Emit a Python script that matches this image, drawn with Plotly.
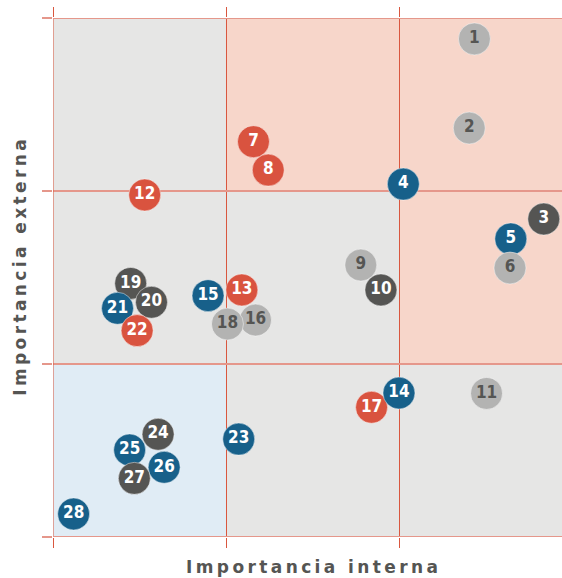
import plotly.graph_objects as go

# positions in grid units (each quadrant cell = 1 unit)
ids = ["1", "2", "3", "4", "5", "6", "7", "8", "9", "10", "11", "12", "13", "15",
       "16", "17", "14", "18", "19", "20", "21", "22", "23", "24", "25", "26", "27", "28"]
interna = [2.43, 2.40, 2.83, 2.02, 2.64, 2.635, 1.156, 1.241, 1.775, 1.891, 2.50, 0.529,
           1.089, 0.894, 1.168, 1.837, 1.995, 1.006, 0.448, 0.568, 0.372, 0.485, 1.071,
           0.606, 0.442, 0.641, 0.469, 0.119]
externa = [2.879, 2.364, 1.838, 2.040, 1.723, 1.555, 2.285, 2.121, 1.572, 1.428, 0.830,
           1.977, 1.428, 1.395, 1.254, 0.750, 0.832, 1.231, 1.466, 1.357, 1.322, 1.193,
           0.566, 0.594, 0.503, 0.403, 0.339, 0.133]
grupo = ["claro", "claro", "oscuro", "azul", "azul", "claro", "rojo", "rojo", "claro",
         "oscuro", "claro", "rojo", "rojo", "azul", "claro", "rojo", "azul", "claro",
         "oscuro", "oscuro", "azul", "rojo", "azul", "oscuro", "azul", "azul", "oscuro", "azul"]

colores = {"claro": "#b3b3b2", "oscuro": "#555553", "azul": "#17608a", "rojo": "#d9533f"}
texto = {"claro": "#555553", "oscuro": "white", "azul": "white", "rojo": "white"}

GRIS = "#e6e6e5"
ROSA = "#f7d6ca"
AZUL = "#e0ecf5"
celdas = [(0, 2, GRIS), (1, 2, ROSA), (2, 2, ROSA),
          (0, 1, GRIS), (1, 1, GRIS), (2, 1, ROSA),
          (0, 0, AZUL), (1, 0, GRIS), (2, 0, GRIS)]
ROJO = "#d9573f"
SALMON = "#e5978b"

fig = go.Figure()
fig.add_trace(go.Scatter(
    x=interna, y=externa, mode="markers+text", text=ids,
    textposition="middle center",
    marker=dict(size=32, color=[colores[g] for g in grupo],
                line=dict(width=1, color="rgba(255,255,255,0.45)")),
    textfont=dict(family="Liberation Sans Narrow, DejaVu Sans Condensed", size=17,
                  weight="bold", color=[texto[g] for g in grupo]),
    hoverinfo="skip", cliponaxis=False,
))

for cx, cy, c in celdas:
    fig.add_shape(type="rect", x0=cx, x1=cx + 1, y0=cy, y1=cy + 1,
                  fillcolor=c, line_width=0, layer="below")
# edge lines (gridlines on the range edges are not always drawn)
fig.add_shape(type="line", x0=0, x1=0, y0=0, y1=3, line=dict(color=ROJO, width=1), layer="between")
for yy in [0, 3]:
    fig.add_shape(type="line", x0=0, x1=2.935, y0=yy, y1=yy,
                  line=dict(color=SALMON, width=2), layer="between")

fig.update_xaxes(range=[0, 2.935], tickvals=[0, 1, 2], showticklabels=False,
                 ticks="outside", ticklen=10, tickcolor=ROJO, tickwidth=1,
                 mirror="ticks", showgrid=True, gridcolor=ROJO, gridwidth=1,
                 zeroline=False, showline=False, fixedrange=True)
fig.update_yaxes(range=[0, 3], tickvals=[0, 1, 2, 3], showticklabels=False,
                 ticks="outside", ticklen=10, tickcolor=SALMON, tickwidth=2,
                 showgrid=True, gridcolor=SALMON, gridwidth=2,
                 zeroline=False, showline=False, fixedrange=True)

titulo = dict(family="DejaVu Sans", size=17, weight="bold", color="#555553")
fig.add_annotation(text="I\u2009m\u2009p\u2009o\u2009r\u2009t\u2009a\u2009n\u2009c\u2009i\u2009a\u2009 \u2009i\u2009n\u2009t\u2009e\u2009r\u2009n\u2009a",
                   xref="paper", yref="paper", x=0.508, y=-30 / 519,
                   xanchor="center", yanchor="middle", showarrow=False, font=titulo)
fig.add_annotation(text="I\u2009m\u2009p\u2009o\u2009r\u2009t\u2009a\u2009n\u2009c\u2009i\u2009a\u2009 \u2009e\u2009x\u2009t\u2009e\u2009r\u2009n\u2009a",
                   xref="paper", yref="paper", x=(20 - 53.3) / 508.7, y=0.52,
                   xanchor="center", yanchor="middle", textangle=-90,
                   showarrow=False, font=titulo)

fig.update_layout(width=562, height=578, autosize=False, showlegend=False,
                  margin=dict(l=53.3, r=0, t=18, b=41, autoexpand=False),
                  paper_bgcolor="white", plot_bgcolor="white")

# page body has a default 8px margin; drop it so the figure sits at the corner
fix = ("document.body.style.margin='0';document.body.style.overflow='hidden';"
       "Plotly.relayout('{plot_id}', {width: 562, height: 578});")
fig.write_html("out.html", post_script=fix, config={"displayModeBar": False})
